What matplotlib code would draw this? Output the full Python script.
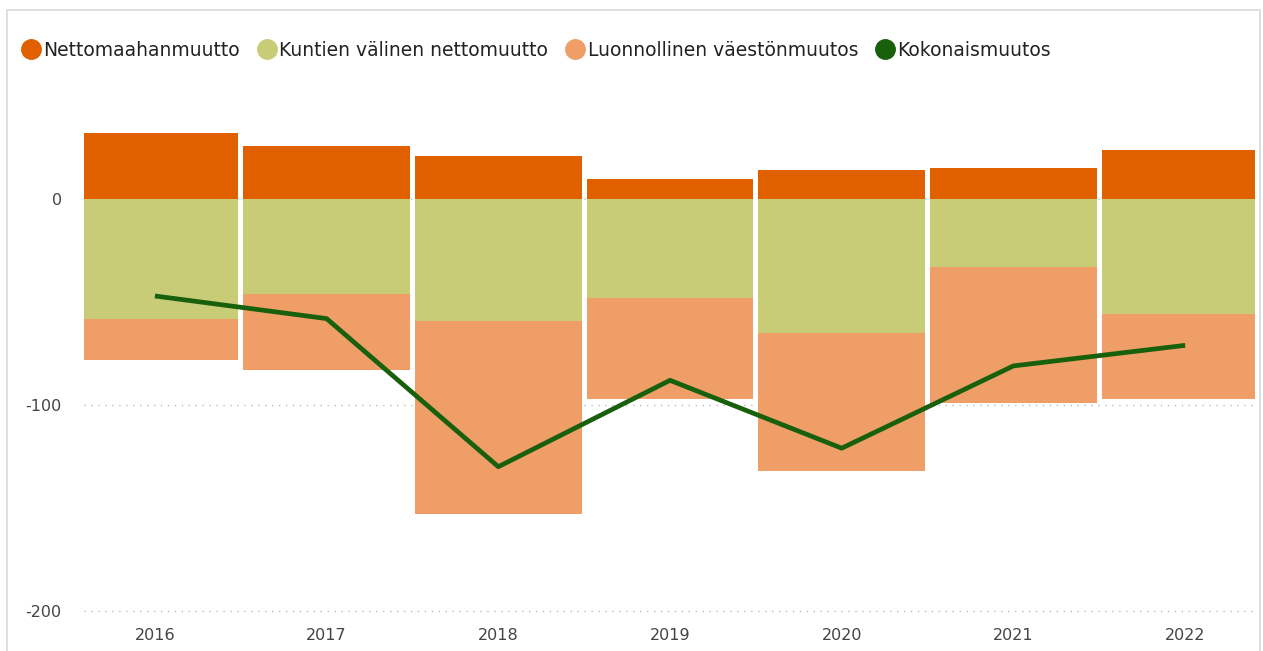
import matplotlib.pyplot as plt
from matplotlib.lines import Line2D
from matplotlib.patches import Rectangle
import numpy as np

years = ["2016", "2017", "2018", "2019", "2020", "2021", "2022"]
nettomaahanmuutto = [32, 26, 21, 10, 14, 15, 24]
kuntien_valinen = [-58, -46, -59, -48, -65, -33, -56]
luonnollinen = [-20, -37, -94, -49, -67, -66, -41]
kokonaismuutos = [-47, -58, -130, -88, -121, -81, -71]

c_netto = "#e06000"
c_kunta = "#c9cc76"
c_luonn = "#ee9e66"
c_koko = "#18600c"

plt.rcParams["font.family"] = ["DejaVu Sans"]

fig = plt.figure(figsize=(12.63, 6.51), dpi=100)
ax = fig.add_axes([84/1263, 30/651, 1171/1263, 504/651])

x = np.arange(len(years))
w = 0.97
ax.bar(x, nettomaahanmuutto, w, color=c_netto, zorder=2)
ax.bar(x, kuntien_valinen, w, color=c_kunta, zorder=2)
ax.bar(x, luonnollinen, w, bottom=kuntien_valinen, color=c_luonn, zorder=2)
ax.plot(x, kokonaismuutos, color=c_koko, lw=3.4, zorder=3, solid_capstyle="butt")

ax.set_xlim(-0.413, 6.407)
ax.set_ylim(-205, 40)
ax.set_yticks([0, -100, -200])
ax.set_yticklabels(["0", "-100", "-200"])
ax.set_xticks(x)
ax.set_xticklabels(years)
ax.tick_params(length=0, labelsize=11.5, colors="#444444")
ax.tick_params(axis="y", pad=16)
ax.tick_params(axis="x", pad=5)
ax.yaxis.grid(True, color="#bbbbbb", linestyle=(0, (1, 4)), lw=1, zorder=1)
for s in ax.spines.values():
    s.set_visible(False)

handles = [Line2D([], [], marker="o", ls="", ms=14, color=c)
           for c in (c_netto, c_kunta, c_luonn, c_koko)]
labels = ["Nettomaahanmuutto", "Kuntien välinen nettomuutto",
          "Luonnollinen väestönmuutos", "Kokonaismuutos"]
fig.legend(handles, labels, loc="center left", bbox_to_anchor=(2/1263, 1 - 50/651),
           ncol=4, frameon=False, fontsize=13.5, handletextpad=0.0,
           columnspacing=0.8, handlelength=1.3, labelcolor="#222222")

fig.patches.append(Rectangle((7/1263, -0.05), 1253/1263, 1.05 - 10/651,
                             transform=fig.transFigure, fill=False,
                             edgecolor="#d9d9d9", lw=1.2))

fig.savefig("out.png", dpi=100)
